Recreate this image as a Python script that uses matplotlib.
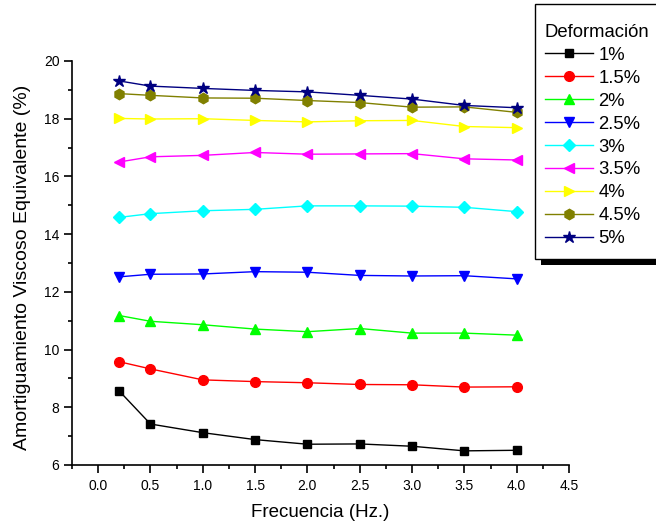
import matplotlib
matplotlib.use("Agg")
import matplotlib.pyplot as plt
from matplotlib.ticker import MultipleLocator, FormatStrFormatter
from matplotlib.patches import Rectangle

plt.rcParams['font.family'] = ['Liberation Sans', 'DejaVu Sans']

freq = [0.2, 0.5, 1.0, 1.5, 2.0, 2.5, 3.0, 3.5, 4.0]
labels = ['1%', '1.5%', '2%', '2.5%', '3%', '3.5%', '4%', '4.5%', '5%']
d1 = [8.57, 7.42, 7.12, 6.88, 6.72, 6.73, 6.65, 6.49, 6.51]
d15 = [9.58, 9.33, 8.95, 8.89, 8.85, 8.79, 8.78, 8.70, 8.71]
d2 = [11.18, 10.98, 10.86, 10.71, 10.62, 10.73, 10.57, 10.57, 10.50]
d25 = [12.52, 12.61, 12.62, 12.70, 12.68, 12.57, 12.55, 12.56, 12.45]
d3 = [14.58, 14.71, 14.81, 14.86, 14.98, 14.98, 14.97, 14.93, 14.78]
d35 = [16.50, 16.68, 16.73, 16.83, 16.77, 16.78, 16.79, 16.61, 16.57]
d4 = [18.01, 17.99, 18.00, 17.94, 17.89, 17.93, 17.94, 17.73, 17.69]
d45 = [18.87, 18.81, 18.72, 18.71, 18.63, 18.56, 18.40, 18.41, 18.22]
d5 = [19.31, 19.13, 19.05, 18.98, 18.93, 18.81, 18.68, 18.46, 18.38]
series = [d1, d15, d2, d25, d3, d35, d4, d45, d5]

colors = ['#000000', '#ff0000', '#00ff00', '#0000ff', '#00ffff',
          '#ff00ff', '#ffff00', '#808000', '#000080']
markers = ['s', 'o', '^', 'v', 'D', '<', '>', 'h', '*']
msizes = [6, 7, 7.5, 7.5, 6.5, 7.5, 7.5, 7.5, 9]

W, H = 656, 529
fig = plt.figure(figsize=(W/100, H/100), dpi=100)
ax = fig.add_axes([72/W, 1-465/H, (569-72)/W, (465-61)/H])

handles = []
for ys, c, m, ms, lab in zip(series, colors, markers, msizes, labels):
    h, = ax.plot(freq, ys, color=c, marker=m, markersize=ms, linewidth=1,
                 markeredgecolor=c, markerfacecolor=c, label=lab)
    handles.append(h)

ax.set_xlim(-0.25, 4.5)
ax.set_ylim(6, 20)
ax.xaxis.set_major_locator(MultipleLocator(0.5))
ax.xaxis.set_minor_locator(MultipleLocator(0.25))
ax.yaxis.set_major_locator(MultipleLocator(2))
ax.yaxis.set_minor_locator(MultipleLocator(1))
ax.xaxis.set_major_formatter(FormatStrFormatter('%.1f'))
ax.spines['top'].set_visible(False)
ax.spines['right'].set_visible(False)
for s in ['left', 'bottom']:
    ax.spines[s].set_linewidth(1.2)
ax.tick_params(which='major', direction='out', length=6, width=1.2, labelsize=10)
ax.tick_params(which='minor', direction='out', length=3, width=1.2)
ax.tick_params(axis='x', which='major', pad=4)
ax.tick_params(axis='y', which='major', pad=3)

ax.set_xlabel('Frecuencia (Hz.)', fontsize=13.5, labelpad=8)
ax.set_ylabel('Amortiguamiento Viscoso Equivalente (%)', fontsize=14)
ax.yaxis.set_label_coords(-0.083, 0.488)

# legend frame with hard black shadow
fx0, fy0, fx1, fy1 = 535, 4, 668, 259
fig.patches.append(Rectangle(((fx0+6)/W, 1-(fy1+6)/H), (fx1-fx0)/W, (fy1-fy0)/H,
                             transform=fig.transFigure, facecolor='black',
                             edgecolor='none', zorder=1))
fig.patches.append(Rectangle((fx0/W, 1-fy1/H), (fx1-fx0)/W, (fy1-fy0)/H,
                             transform=fig.transFigure, facecolor='white',
                             edgecolor='black', linewidth=1, zorder=2))

leg = fig.legend(handles=handles, title='Deformación', loc='upper left',
                 bbox_to_anchor=(545/W, 1-24/H), borderaxespad=0,
                 fontsize=13.3, title_fontsize=13.3, frameon=False,
                 labelspacing=0.32, handlelength=2.6, handletextpad=0.3,
                 borderpad=0)
leg._legend_box.align = 'left'
leg.set_zorder(5)

fig.savefig('out.png', dpi=100)
